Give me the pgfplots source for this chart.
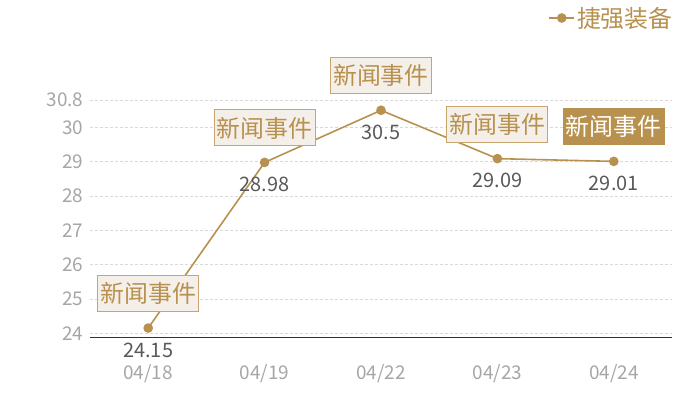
\documentclass[border=0pt]{standalone}
\usepackage{pgfplots}
\pgfplotsset{compat=1.18}
\usepackage{fontspec}
\setmainfont{Noto Sans CJK SC}

\definecolor{tan}{HTML}{B8914F}
\definecolor{boxfill}{HTML}{F4EFE9}
\definecolor{boxline}{HTML}{C8A56E}
\definecolor{ticktxt}{HTML}{A6A6A6}
\definecolor{valtxt}{HTML}{595959}

\tikzset{
  news/.style={draw=boxline, fill=boxfill, line width=1bp, text=tan,
    minimum width=101bp, minimum height=36bp, inner sep=0pt,
    font=\fontsize{24}{26}\selectfont},
  newshot/.style={news, draw=tan, fill=tan, text=white},
}

\begin{document}
\begin{tikzpicture}
\useasboundingbox (0,0) rectangle (700bp,400bp);
\begin{axis}[
  at={(90bp,62.7bp)}, anchor=south west,
  scale only axis, width=582bp, height=237.3bp,
  xmin=-0.5, xmax=4.5, ymin=23.88, ymax=30.8,
  clip=false,
  axis x line*=bottom, axis y line*=left,
  x axis line style={draw=black!80, line width=0.8bp},
  y axis line style={draw=none},
  major tick length=0pt,
  xtick={0,1,2,3,4},
  xticklabels={04/18,04/19,04/22,04/23,04/24},
  ytick={24,25,26,27,28,29,30,30.8},
  yticklabels={24,25,26,27,28,29,30,30.8},
  ymajorgrids,
  grid style={gray!30, dash pattern=on 3bp off 2bp, line width=0.6bp},
  /pgf/number format/assume math mode=true,
  ticklabel style={text=ticktxt, font=\fontsize{19}{21}\selectfont},
  xticklabel style={yshift=-24bp},
  yticklabel style={xshift=-3bp},
  legend style={at={(1.005,1.3456)}, anchor=east, draw=none, fill=none,
    inner sep=0pt, text=tan, font=\fontsize{24}{26}\selectfont},
  legend image code/.code={%
    \draw[mark repeat=2,mark phase=2,#1] plot coordinates {(0bp,0bp) (12.5bp,0bp) (25bp,0bp)};},
]
\addplot[color=tan, line width=1.6bp, mark=*, mark size=4bp,
  point meta=explicit symbolic,
  nodes near coords,
  every node near coord/.style={anchor=center, yshift=-22bp, text=valtxt,
    font=\fontsize{20}{22}\selectfont},
] coordinates {
  (0,24.15) [24.15]
  (1,28.98) [28.98]
  (2,30.5) [30.5]
  (3,29.09) [29.09]
  (4,29.01) [29.01]
};
\addlegendentry{捷强装备}

\node[news] at (axis cs:0,24.15) [yshift=34.5bp] {新闻事件};
\node[news] at (axis cs:1,28.98) [yshift=34.5bp] {新闻事件};
\node[news] at (axis cs:2,30.5) [yshift=34.5bp] {新闻事件};
\node[news] at (axis cs:3,29.09) [yshift=34.5bp] {新闻事件};
\node[newshot] at (axis cs:4,29.01) [yshift=34.5bp] {新闻事件};
\end{axis}
\end{tikzpicture}
\end{document}
